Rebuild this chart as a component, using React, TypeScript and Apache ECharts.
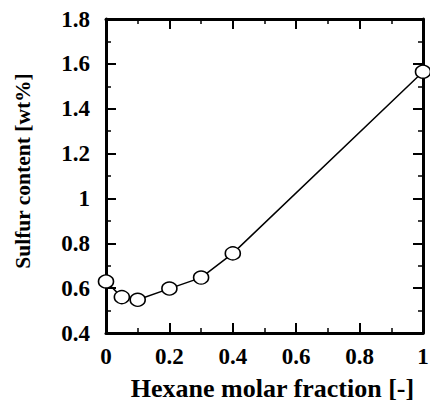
import React, { useEffect, useRef } from "react";
import * as echarts from "echarts";

const hexaneFraction = [0, 0.05, 0.1, 0.2, 0.3, 0.4, 1.0];
const sulfurContent = [0.63, 0.56, 0.548, 0.598, 0.647, 0.755, 1.565];
const xAxisTitle = "Hexane molar fraction [-]";
const yAxisTitle = "Sulfur content [wt%]";

const FONT = "'Liberation Serif', 'Times New Roman', serif";

export default function App() {
  const ref = useRef<HTMLDivElement>(null);
  useEffect(() => {
    if (!ref.current) return;
    const chart = echarts.init(ref.current, null, { renderer: "svg" });
    const axisLine = { show: true, onZero: false, lineStyle: { color: "#000", width: 3 } };
    const axisTick = { show: true, inside: true, length: 10, lineStyle: { color: "#000", width: 2 } };
    const minorTick = { show: true, splitNumber: 2, length: 5, lineStyle: { color: "#000", width: 1.5 } };
    const labelStyle = { color: "#000", fontFamily: FONT, fontWeight: "bold" as const, fontSize: 23 };
    chart.setOption({
      animation: false,
      backgroundColor: "#fff",
      grid: { left: 106, right: 7, top: 19, bottom: 68, containLabel: false, outerBoundsMode: "none" },
      xAxis: [
        {
          type: "value",
          min: 0,
          max: 1,
          interval: 0.2,
          position: "bottom",
          axisLine,
          axisTick,
          minorTick,
          splitLine: { show: false },
          axisLabel: { ...labelStyle, margin: 12, formatter: (v: number) => String(+v.toFixed(1)) },
          name: xAxisTitle,
          nameLocation: "middle",
          nameGap: 42,
          nameTextStyle: {
            color: "#000",
            fontFamily: FONT,
            fontWeight: "bold",
            fontSize: 26,
            lineHeight: 26,
            padding: [0, 0, 0, 16],
          },
        },
        {
          type: "value",
          min: 0,
          max: 1,
          interval: 0.2,
          position: "top",
          axisLine,
          axisTick,
          minorTick,
          splitLine: { show: false },
          axisLabel: { show: false },
        },
      ],
      yAxis: [
        {
          type: "value",
          min: 0.4,
          max: 1.8,
          interval: 0.2,
          position: "left",
          axisLine,
          axisTick,
          minorTick,
          splitLine: { show: false },
          axisLabel: { ...labelStyle, margin: 16, formatter: (v: number) => String(+v.toFixed(1)) },
          name: yAxisTitle,
          nameLocation: "middle",
          nameRotate: 90,
          nameGap: 72,
          nameTextStyle: { color: "#000", fontFamily: FONT, fontWeight: "bold", fontSize: 21.5, padding: [0, 0, 0, 10] },
        },
        {
          type: "value",
          min: 0.4,
          max: 1.8,
          interval: 0.2,
          position: "right",
          axisLine,
          axisTick,
          minorTick,
          splitLine: { show: false },
          axisLabel: { show: false },
        },
      ],
      series: [
        {
          type: "line",
          data: hexaneFraction.map((x, i) => [x, sulfurContent[i]]),
          symbol: "circle",
          symbolSize: [15, 13],
          showAllSymbol: true,
          clip: false,
          lineStyle: { color: "#000", width: 1.5 },
          itemStyle: { color: "#fff", borderColor: "#000", borderWidth: 1.5 },
          z: 5,
        },
      ],
    });
    return () => chart.dispose();
  }, []);
  return <div ref={ref} style={{ width: 430, height: 401, position: "absolute", left: 0, top: 0 }} />;
}
